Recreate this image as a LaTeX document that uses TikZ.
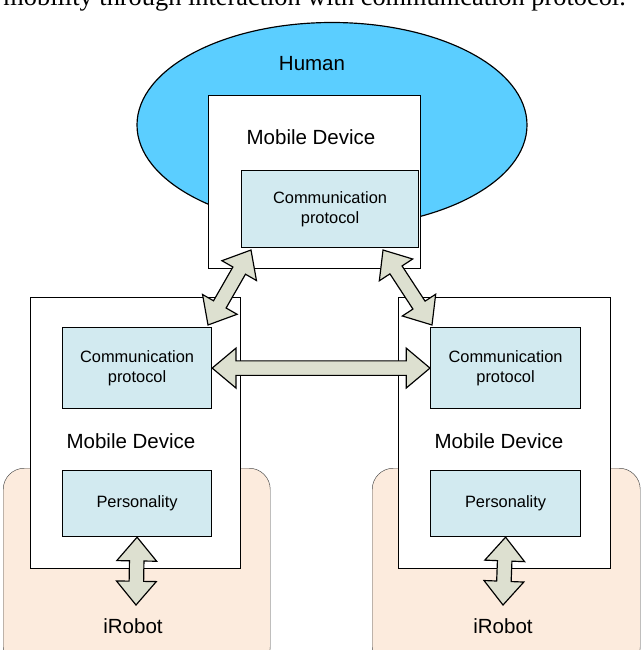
\documentclass[tikz,border=0pt]{standalone}
\usepackage{fontspec}
\setmainfont{Liberation Sans}
\newfontfamily\serifhead{Liberation Serif}
\usetikzlibrary{shapes.geometric, shapes.arrows, calc}
\definecolor{humanblue}{HTML}{5BCEFF}
\definecolor{protofill}{HTML}{D2EAF0}
\definecolor{robotfill}{HTML}{FCEBDD}
\definecolor{arrowfill}{HTML}{DDE0D0}
\tikzstyle{device} = [rectangle, draw=black, fill=white, line width=1pt]
\tikzstyle{module} = [rectangle, draw=black, fill=protofill, line width=1pt, align=center, font=\fontsize{14}{17}\selectfont]
\tikzstyle{robot} = [rectangle, rounded corners=18pt, draw=black!70, fill=robotfill]
\tikzstyle{label} = [font=\fontsize{17.5}{20}\selectfont]
\tikzstyle{fatarrow} = [double arrow, draw=black, fill=arrowfill, line width=1pt,
  inner xsep=0pt, inner ysep=0.2cm, double arrow head extend=0.38cm, double arrow tip angle=80]
\newcommand{\linkarrow}[2]{%
  \path let \p1=($(#2)-(#1)$), \n1={atan2(\y1,\x1)}, \n2={veclen(\x1,\y1)} in
    node[fatarrow, rotate=\n1, minimum height=\n2] at ($(#1)!0.5!(#2)$) {};}
\begin{document}
\begin{tikzpicture}[x=0.03cm, y=-0.03cm]
  \useasboundingbox (0,0) rectangle (640,650);
  \node[anchor=base east, inner sep=0pt, font=\serifhead\fontsize{22.5}{24}\selectfont] (caption) at (626,6) {mobility through interaction with communication protocol.};

  % Human side
  \node (human) [ellipse, draw=black, line width=1pt, fill=humanblue, minimum width=390*0.03cm, minimum height=205*0.03cm] at (332,125) {};
  \node (topdev) [device, anchor=north west, minimum width=212*0.03cm, minimum height=173*0.03cm] at (208,95) {};
  \node (topproto) [module, anchor=north west, minimum width=177*0.03cm, minimum height=77*0.03cm] at (241,170) {Communication\\protocol};
  \node [label] at (312,64) {Human};
  \node [label] at (311,137) {Mobile Device};

  % Robot sides
  \node (robotL) [robot, anchor=north west, minimum width=267*0.03cm, minimum height=200*0.03cm] at (3,468) {};
  \node (robotR) [robot, anchor=north west, minimum width=268*0.03cm, minimum height=200*0.03cm] at (372,468) {};
  \node (devL) [device, anchor=north west, minimum width=210*0.03cm, minimum height=271*0.03cm] at (30,297) {};
  \node (devR) [device, anchor=north west, minimum width=212*0.03cm, minimum height=271*0.03cm] at (398,297) {};
  \node (protoL) [module, anchor=north west, minimum width=149*0.03cm, minimum height=81*0.03cm] at (62,327) {Communication\\protocol};
  \node (protoR) [module, anchor=north west, minimum width=150*0.03cm, minimum height=81*0.03cm] at (430,327) {Communication\\protocol};
  \node (persL) [module, anchor=north west, minimum width=149*0.03cm, minimum height=66*0.03cm] at (62,470) {Personality};
  \node (persR) [module, anchor=north west, minimum width=150*0.03cm, minimum height=66*0.03cm] at (430,470) {Personality};
  \node [label] at (131,441) {Mobile Device};
  \node [label] at (499,441) {Mobile Device};
  \node (irobotL) [label] at (133,626) {iRobot};
  \node (irobotR) [label] at (503,626) {iRobot};

  % Links
  \coordinate (tl) at (251,250);
  \coordinate (tr) at (383,250);
  \coordinate (pl) at (208,325);
  \coordinate (pr) at (432,325);
  \coordinate (bl) at (136,605);
  \coordinate (br) at (503,605);
  \linkarrow{tl}{pl}
  \linkarrow{tr}{pr}
  \linkarrow{protoL.east}{protoR.west}
  \linkarrow{persL.south}{bl}
  \linkarrow{persR.south}{br}
\end{tikzpicture}
\end{document}
